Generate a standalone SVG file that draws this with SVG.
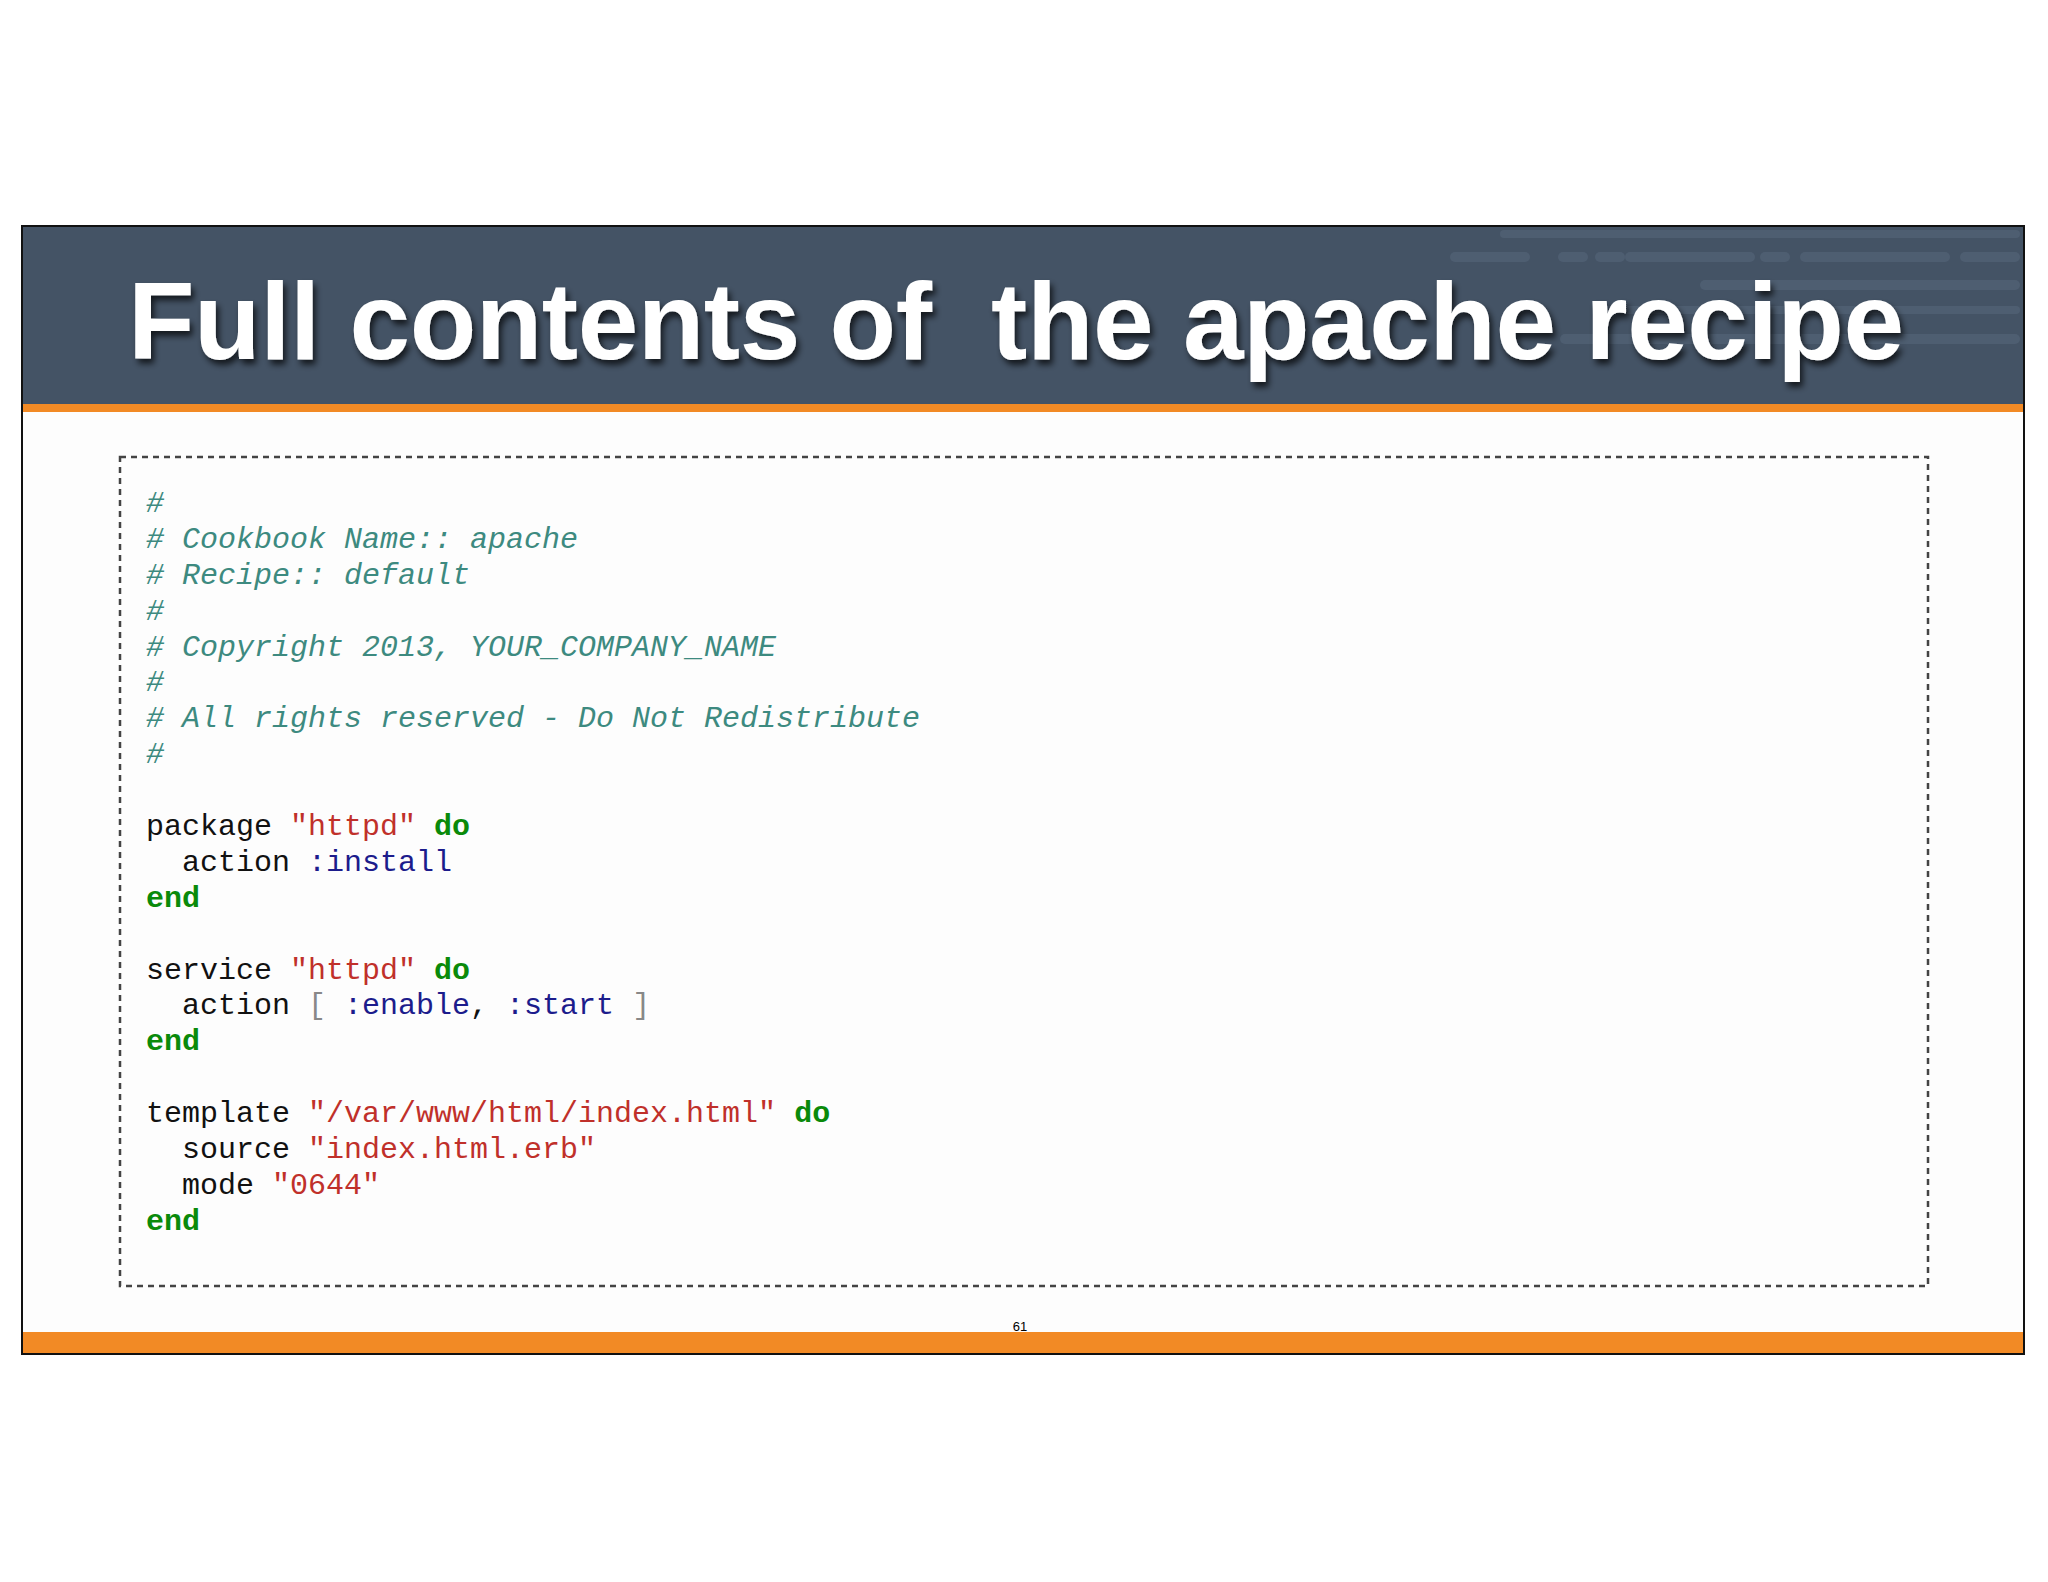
<svg xmlns="http://www.w3.org/2000/svg" width="2048" height="1582" viewBox="0 0 2048 1582">
<defs>
<filter id="sh" x="-5%" y="-20%" width="110%" height="140%"><feDropShadow dx="3" dy="5" stdDeviation="3" flood-color="#000" flood-opacity="0.7"/></filter>
<style>
.c{font-family:"Liberation Mono","DejaVu Sans Mono",monospace;font-size:30px;fill:#111;white-space:pre}
.cm{fill:#3d8a80;font-style:italic}
.s{fill:#c0302a}
.k{fill:#0a8a0a;font-weight:bold}
.y{fill:#1c1c8c}
.g{fill:#888}
.bar{fill:#55667a;opacity:0.6}
</style>
</defs>
<rect width="2048" height="1582" fill="#fff"/>
<g id="slide">
<rect x="22" y="226" width="2002" height="1128" fill="#fdfdfd" stroke="#111" stroke-width="2"/>
<rect x="23" y="227" width="2000" height="177" fill="#445365"/>
<g id="bars">
<rect class="bar" x="1500" y="230" width="520" height="8" rx="4"/>
<rect class="bar" x="1450" y="252" width="80" height="10" rx="5"/>
<rect class="bar" x="1558" y="252" width="30" height="10" rx="5"/>
<rect class="bar" x="1595" y="252" width="30" height="10" rx="5"/>
<rect class="bar" x="1625" y="252" width="130" height="10" rx="5"/>
<rect class="bar" x="1760" y="252" width="30" height="10" rx="5"/>
<rect class="bar" x="1800" y="252" width="150" height="10" rx="5"/>
<rect class="bar" x="1960" y="252" width="60" height="10" rx="5"/>
<rect class="bar" x="1700" y="280" width="320" height="10" rx="5"/>
<rect class="bar" x="1600" y="306" width="420" height="8" rx="4"/>
<rect class="bar" x="1560" y="334" width="460" height="10" rx="5"/>
</g>
<rect x="23" y="404" width="2000" height="8" fill="#f28a25"/>
<rect x="23" y="1332" width="2000" height="21" fill="#f28a25"/>
<text x="128" y="359" font-family="Liberation Sans,Arial,sans-serif" font-weight="bold" font-size="109" fill="#fff" filter="url(#sh)" textLength="1776" style="white-space:pre">Full contents of  the apache recipe</text>
<text x="1020" y="1331" font-family="Liberation Sans,Arial,sans-serif" font-size="13" fill="#000" text-anchor="middle">61</text>
</g>
<g id="codebox">
<rect x="120" y="457" width="1808" height="829" fill="none" stroke="#444" stroke-width="2.5" stroke-dasharray="6,5"/>
<text x="146" y="512" class="c cm">#</text>
<text x="146" y="548" class="c cm"># Cookbook Name:: apache</text>
<text x="146" y="584" class="c cm"># Recipe:: default</text>
<text x="146" y="620" class="c cm">#</text>
<text x="146" y="656" class="c cm"># Copyright 2013, YOUR_COMPANY_NAME</text>
<text x="146" y="691" class="c cm">#</text>
<text x="146" y="727" class="c cm"># All rights reserved - Do Not Redistribute</text>
<text x="146" y="763" class="c cm">#</text>
<text x="146" y="835" class="c">package <tspan class="s">"httpd"</tspan> <tspan class="k">do</tspan></text>
<text x="182" y="871" class="c">action <tspan class="y">:install</tspan></text>
<text x="146" y="907" class="c k">end</text>
<text x="146" y="979" class="c">service <tspan class="s">"httpd"</tspan> <tspan class="k">do</tspan></text>
<text x="182" y="1014" class="c">action <tspan class="g">[</tspan> <tspan class="y">:enable</tspan>, <tspan class="y">:start</tspan> <tspan class="g">]</tspan></text>
<text x="146" y="1050" class="c k">end</text>
<text x="146" y="1122" class="c">template <tspan class="s">"/var/www/html/index.html"</tspan> <tspan class="k">do</tspan></text>
<text x="182" y="1158" class="c">source <tspan class="s">"index.html.erb"</tspan></text>
<text x="182" y="1194" class="c">mode <tspan class="s">"0644"</tspan></text>
<text x="146" y="1230" class="c k">end</text>
</g>
</svg>
